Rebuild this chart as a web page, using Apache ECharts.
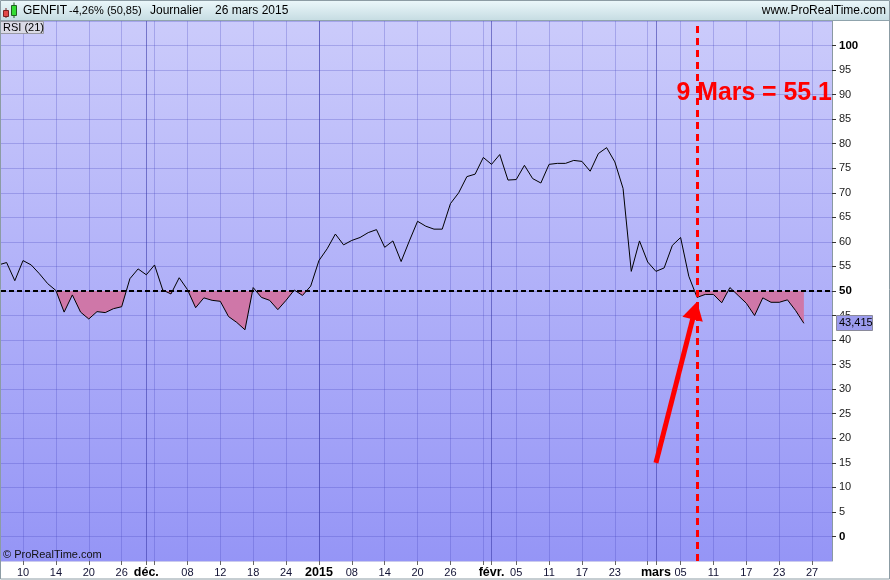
<!DOCTYPE html>
<html><head><meta charset="utf-8">
<script src="https://cdn.jsdelivr.net/npm/echarts@6/dist/echarts.min.js"></script>
<style>html,body{margin:0;padding:0;background:#fff}#c{width:890px;height:580px}</style>
</head><body><div id="c"></div>
<script>
// ---- data ----
const dates = [
'2014-11-05','2014-11-06','2014-11-07','2014-11-10','2014-11-11','2014-11-12','2014-11-13','2014-11-14','2014-11-17','2014-11-18','2014-11-19','2014-11-20','2014-11-21','2014-11-24','2014-11-25','2014-11-26','2014-11-27','2014-11-28',
'2014-12-01','2014-12-02','2014-12-03','2014-12-04','2014-12-05','2014-12-08','2014-12-09','2014-12-10','2014-12-11','2014-12-12','2014-12-15','2014-12-16','2014-12-17','2014-12-18','2014-12-19','2014-12-22','2014-12-23','2014-12-24','2014-12-29','2014-12-30','2014-12-31',
'2015-01-02','2015-01-05','2015-01-06','2015-01-07','2015-01-08','2015-01-09','2015-01-12','2015-01-13','2015-01-14','2015-01-15','2015-01-16','2015-01-19','2015-01-20','2015-01-21','2015-01-22','2015-01-23','2015-01-26','2015-01-27','2015-01-28','2015-01-29','2015-01-30',
'2015-02-02','2015-02-03','2015-02-04','2015-02-05','2015-02-06','2015-02-09','2015-02-10','2015-02-11','2015-02-12','2015-02-13','2015-02-16','2015-02-17','2015-02-18','2015-02-19','2015-02-20','2015-02-23','2015-02-24','2015-02-25','2015-02-26','2015-02-27',
'2015-03-02','2015-03-03','2015-03-04','2015-03-05','2015-03-06','2015-03-09','2015-03-10','2015-03-11','2015-03-12','2015-03-13','2015-03-16','2015-03-17','2015-03-18','2015-03-19','2015-03-20','2015-03-23','2015-03-24','2015-03-25','2015-03-26','2015-03-27','2015-03-30','2015-03-31'];

const rsi = [
55.3,55.8,52.1,56.2,55.3,53.5,51.5,50.1,45.7,49.2,45.7,44.3,45.8,45.6,46.4,46.8,52.5,54.5,
53.3,55.3,50.2,49.4,52.7,50.3,46.6,48.6,48.1,47.9,44.8,43.6,42.1,50.7,48.7,48.1,46.2,48.1,50.2,49.1,51.0,
56.2,58.6,61.6,59.4,60.3,60.9,61.9,62.5,58.9,60.2,56.0,60.2,64.2,63.2,62.6,62.6,67.8,70.0,73.3,73.8,77.2,
75.8,77.8,72.6,72.7,75.6,72.9,72.0,75.8,76.0,76.0,76.6,76.4,74.4,78.0,79.2,76.3,70.9,54.0,60.2,55.9,
54.0,54.7,59.3,60.9,53.0,48.7,49.3,49.3,47.6,50.7,49.1,47.5,45.0,48.6,47.7,47.7,48.2,46.0,43.415];

const dayTickDates = ['2014-11-10','2014-11-14','2014-11-20','2014-11-26','2014-12-02','2014-12-08','2014-12-12','2014-12-18','2014-12-24','2015-01-02','2015-01-08','2015-01-14','2015-01-20','2015-01-26','2015-01-30','2015-02-05','2015-02-11','2015-02-17','2015-02-23','2015-02-27','2015-03-05','2015-03-11','2015-03-17','2015-03-23','2015-03-27'];
const dayTickLabels = ['10','14','20','26','','08','12','18','24','','08','14','20','26','','05','11','17','23','','05','11','17','23','27'];
const monthTickDates = ['2014-12-01','2015-01-02','2015-02-02','2015-03-02'];
const monthTickLabels = ['déc.','2015','févr.','mars'];

const level = 50;
const markDate = '2015-03-09';
const annotationText = '9 Mars = 55.1';
const arrowFrom = ['2015-03-02', 15];
const arrowTo = ['2015-03-09', 47.8];

// ---- chart ----
const FONT = 'Arial, "Liberation Sans", sans-serif';
const idx = d => dates.indexOf(d);
const seriesData = rsi.map((v, i) => [i, v]);
const dayIdx = dayTickDates.map(idx);
const monthIdx = monthTickDates.map(idx);
const dayMap = {}; dayIdx.forEach((k, i) => dayMap[k] = dayTickLabels[i]);
const monthMap = {}; monthIdx.forEach((k, i) => monthMap[k] = monthTickLabels[i]);
const lastVal = rsi[rsi.length - 1];
const lastLabel = lastVal.toFixed(3).replace('.', ',');
const xMin = 0.32, xMax = 101.42;
const PINK = '#CF77A8';

const chart = echarts.init(document.getElementById('c'), null, {renderer: 'canvas'});

const staticGraphic = [
  {type:'rect', id:'hdr', shape:{x:0,y:0,width:890,height:20}, z:100,
   style:{fill:new echarts.graphic.LinearGradient(0,0,0,1,[{offset:0,color:'#ECF8FB'},{offset:1,color:'#C7DDE3'}])}},
  {type:'line', id:'hdrb', shape:{x1:0,y1:20.5,x2:890,y2:20.5}, z:101, style:{stroke:'#8FA3AC', lineWidth:1}},
  {type:'line', id:'w1', shape:{x1:6,y1:8,x2:6,y2:18}, z:101, style:{stroke:'#7a2020', lineWidth:1}},
  {type:'rect', id:'c1', shape:{x:3.5,y:10.5,width:5,height:6}, z:102, style:{fill:'#E24848', stroke:'#7a2020', lineWidth:1}},
  {type:'line', id:'w2', shape:{x1:14,y1:2.5,x2:14,y2:18}, z:101, style:{stroke:'#206020', lineWidth:1}},
  {type:'rect', id:'c2', shape:{x:11.5,y:5.5,width:5,height:10}, z:102, style:{fill:'#33DD33', stroke:'#206020', lineWidth:1}},
  {type:'text', id:'t1', x:23, y:11, z:102, style:{text:'GENFIT', font:'12px '+FONT, fill:'#000', verticalAlign:'middle'}},
  {type:'text', id:'t2', x:69, y:11, z:102, style:{text:'-4,26% (50,85)', font:'11px '+FONT, fill:'#000', verticalAlign:'middle'}},
  {type:'text', id:'t3', x:150, y:11, z:102, style:{text:'Journalier', font:'12px '+FONT, fill:'#000', verticalAlign:'middle'}},
  {type:'text', id:'t4', x:215, y:11, z:102, style:{text:'26 mars 2015', font:'12px '+FONT, fill:'#000', verticalAlign:'middle'}},
  {type:'text', id:'url', x:886, y:11, z:102, style:{text:'www.ProRealTime.com', font:'12px '+FONT, fill:'#000', align:'right', verticalAlign:'middle'}},
  {type:'rect', id:'rsibox', shape:{x:0.5,y:21.5,width:43,height:12}, z:100, style:{fill:'#DADAE6', stroke:'#9a9aa6', lineWidth:1}},
  {type:'text', id:'rsit', x:3, y:28, z:101, style:{text:'RSI (21)', font:'11px '+FONT, fill:'#000', verticalAlign:'middle'}},
  {type:'text', id:'copy', x:3, y:555, z:101, style:{text:'© ProRealTime.com', font:'11px '+FONT, fill:'#111', verticalAlign:'middle'}},
  {type:'rect', id:'frame', shape:{x:0.5,y:0.5,width:889,height:578.5}, z:103, style:{fill:'none', stroke:'#8C9CA4', lineWidth:1}}
];

chart.setOption({
  animation: false,
  grid: {left:1, right:58, top:21, bottom:19, show:true, borderWidth:0, containLabel:false, outerBoundsMode:'none',
    backgroundColor: new echarts.graphic.LinearGradient(0,0,0,1,[{offset:0,color:'#CBCBFB'},{offset:1,color:'#9595F6'}])},
  xAxis: [
    {type:'value', min:xMin, max:xMax, position:'bottom',
     axisLine:{show:false, onZero:false},
     axisTick:{show:true, customValues:dayIdx, length:4, lineStyle:{color:'#666'}},
     axisLabel:{customValues:dayIdx, formatter:v => dayMap[Math.round(v)] || '', fontSize:11, fontFamily:FONT, color:'#111133', margin:6},
     splitLine:{show:true, lineStyle:{color:'rgba(70,70,190,0.28)', width:1}}},
    {type:'value', min:xMin, max:xMax, position:'bottom',
     axisLine:{show:false, onZero:false},
     axisTick:{show:true, customValues:monthIdx, length:4, lineStyle:{color:'#666'}},
     axisLabel:{customValues:monthIdx, formatter:v => monthMap[Math.round(v)] || '', fontSize:12.5, fontWeight:'bold', fontFamily:FONT, color:'#000', margin:5},
     splitLine:{show:true, lineStyle:{color:'rgba(60,60,170,0.6)', width:1}}}
  ],
  yAxis: {type:'value', position:'right', min:-5, max:105, interval:5,
    axisLine:{show:true, lineStyle:{color:'#8A99A2', width:1}},
    axisTick:{show:true, length:4, lineStyle:{color:'#333'}},
    axisLabel:{margin:7, fontSize:11, fontFamily:FONT, color:'#1a1a1a', showMinLabel:false, showMaxLabel:false,
      formatter: v => (v % 50 === 0) ? '{b|' + v + '}' : String(v),
      rich:{b:{fontWeight:'bold', fontSize:11.5, fontFamily:FONT, color:'#000'}}},
    splitLine:{show:true, lineStyle:{color:'rgba(70,70,190,0.28)', width:1}}},
  visualMap: {show:false, type:'piecewise', seriesIndex:0, dimension:1,
    pieces:[{min:-10, max:level, color:PINK}, {min:level, max:110, color:'rgba(207,119,168,0)'}]},
  series: [
    {name:'fill', type:'line', data:seriesData, symbol:'none', silent:true, z:2,
     lineStyle:{width:0, opacity:0}, areaStyle:{origin:level, opacity:1}},
    {name:'RSI', type:'line', data:seriesData, symbol:'none', z:3, silent:true,
     lineStyle:{color:'#000', width:1},
     markLine:{silent:true, symbol:'none', animation:false, z:5,
       data:[
         {yAxis:level, lineStyle:{color:'#000', width:2, type:[5,3]}, label:{show:false}},
         {xAxis:idx(markDate), lineStyle:{color:'#FF0000', width:3, type:[7,5]}, label:{show:false}}
       ]}}
  ],
  graphic: staticGraphic
});

// annotations positioned from data coordinates
const P = (d, v) => chart.convertToPixel({seriesIndex:1}, [idx(d), v]);
const tip = P(arrowTo[0], arrowTo[1]);
const tail = P(arrowFrom[0], arrowFrom[1]);
const dx = tip[0]-tail[0], dy = tip[1]-tail[1], L = Math.hypot(dx, dy);
const ux = dx/L, uy = dy/L, HL = 18, HW = 10.5;
const bx = tip[0]-HL*ux, by = tip[1]-HL*uy;
const txtPos = P(markDate, 90.3);
const lastPos = chart.convertToPixel({seriesIndex:1}, [rsi.length - 1, lastVal]);
const axisX = chart.convertToPixel({seriesIndex:1}, [xMax, lastVal])[0];
chart.setOption({graphic: staticGraphic.concat([
  {type:'line', id:'arrowL', z:90, shape:{x1:tail[0], y1:tail[1], x2:bx+ux*2, y2:by+uy*2}, style:{stroke:'#FF0000', lineWidth:5}},
  {type:'polygon', id:'arrowH', z:91, shape:{points:[[tip[0],tip[1]],[bx-HW*uy, by+HW*ux],[bx+HW*uy, by-HW*ux]]}, style:{fill:'#FF0000'}},
  {type:'text', id:'ann', z:92, x:txtPos[0]-20.5, y:txtPos[1], scaleX:0.955, style:{text:annotationText, font:'bold 26px '+FONT, fill:'#FF0000', verticalAlign:'middle'}},
  {type:'rect', id:'lastBox', z:95, shape:{x:Math.round(axisX)+4.5, y:Math.round(lastPos[1])-7.5, width:36, height:15}, style:{fill:'#9C9CEE', stroke:'#8a8a9a', lineWidth:1}},
  {type:'text', id:'lastTxt', z:96, x:Math.round(axisX)+7, y:Math.round(lastPos[1]), style:{text:lastLabel, font:'11px '+FONT, fill:'#000', verticalAlign:'middle'}}
])});
</script>
</body></html>
